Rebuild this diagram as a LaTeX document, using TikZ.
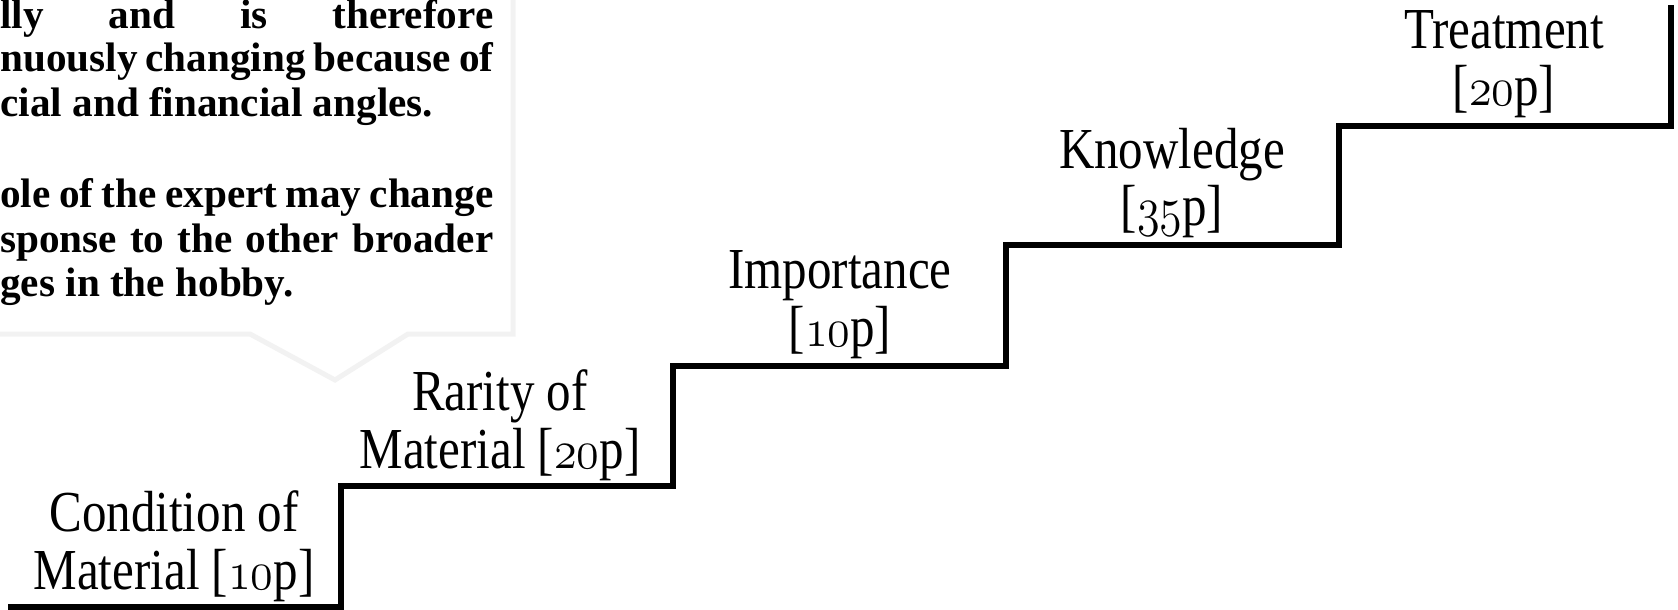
\documentclass[tikz,border=0pt]{standalone}
\usepackage{fontspec}
\setmainfont{Liberation Serif}
\usepackage{graphicx}
\tikzset{
  stair/.style={line width=3pt, line join=miter, line cap=butt},
  callout/.style={draw=black!5, line width=2.5pt, fill=white, line join=miter},
  lbl/.style={anchor=base, inner sep=0pt, font=\fontsize{29}{28.5}\selectfont},
  note/.style={anchor=base west, inner sep=0pt, font=\bfseries\fontsize{20.6}{22.5}\selectfont},
}
\newcommand\osn[1]{{\usefont{OML}{cmm}{m}{it}\scalebox{1.1}{#1}}}
\newcommand\lbltext[2]{\scalebox{0.845}[1]{\begin{tabular}[b]{@{}c@{}}#1\\{}#2\end{tabular}}}
\newcommand\jline[1]{\makebox[246.5pt][s]{#1}}
\begin{document}
\begin{tikzpicture}[x=0.5pt,y=-0.5pt]
\useasboundingbox (0,0) rectangle (1678,610);
\begin{scope}
\clip (0,0) rectangle (1678,610);
% callout box
\draw[callout] (-10,-10) -- (513,-10) -- (513,334) -- (408,334) -- (335,380) -- (250,334) -- (-10,334) -- cycle;
\node[note] (n1) at (0,29)  {\jline{lly and is therefore}};
\node[note] (n2) at (0,72)  {\jline{nuously changing because of}};
\node[note] (n3) at (0,117) {cial and financial angles.};
\node[note] (n4) at (0,207) {\jline{ole of the expert may change}};
\node[note] (n5) at (0,252) {\jline{sponse to the other broader}};
\node[note] (n6) at (0,297) {ges in the hobby.};
% stairs
\draw[stair] (8,607) -| (340.5,486) -| (673,366) -| (1006,245) -| (1339,126) -| (1671,5);
\end{scope}
% labels
\node[lbl] (cond) at (174,589) {\lbltext{Condition of}{Material [\osn{10}p]}};
\node[lbl] (rar)  at (500,468) {\lbltext{Rarity of}{Material [\osn{20}p]}};
\node[lbl] (imp)  at (840,346) {\lbltext{Importance}{[\osn{10}p]}};
\node[lbl] (kno)  at (1172,226) {\lbltext{Knowledge}{[\osn{35}p]}};
\node[lbl] (tre)  at (1504,106) {\lbltext{Treatment}{[\osn{20}p]}};
\end{tikzpicture}
\end{document}
